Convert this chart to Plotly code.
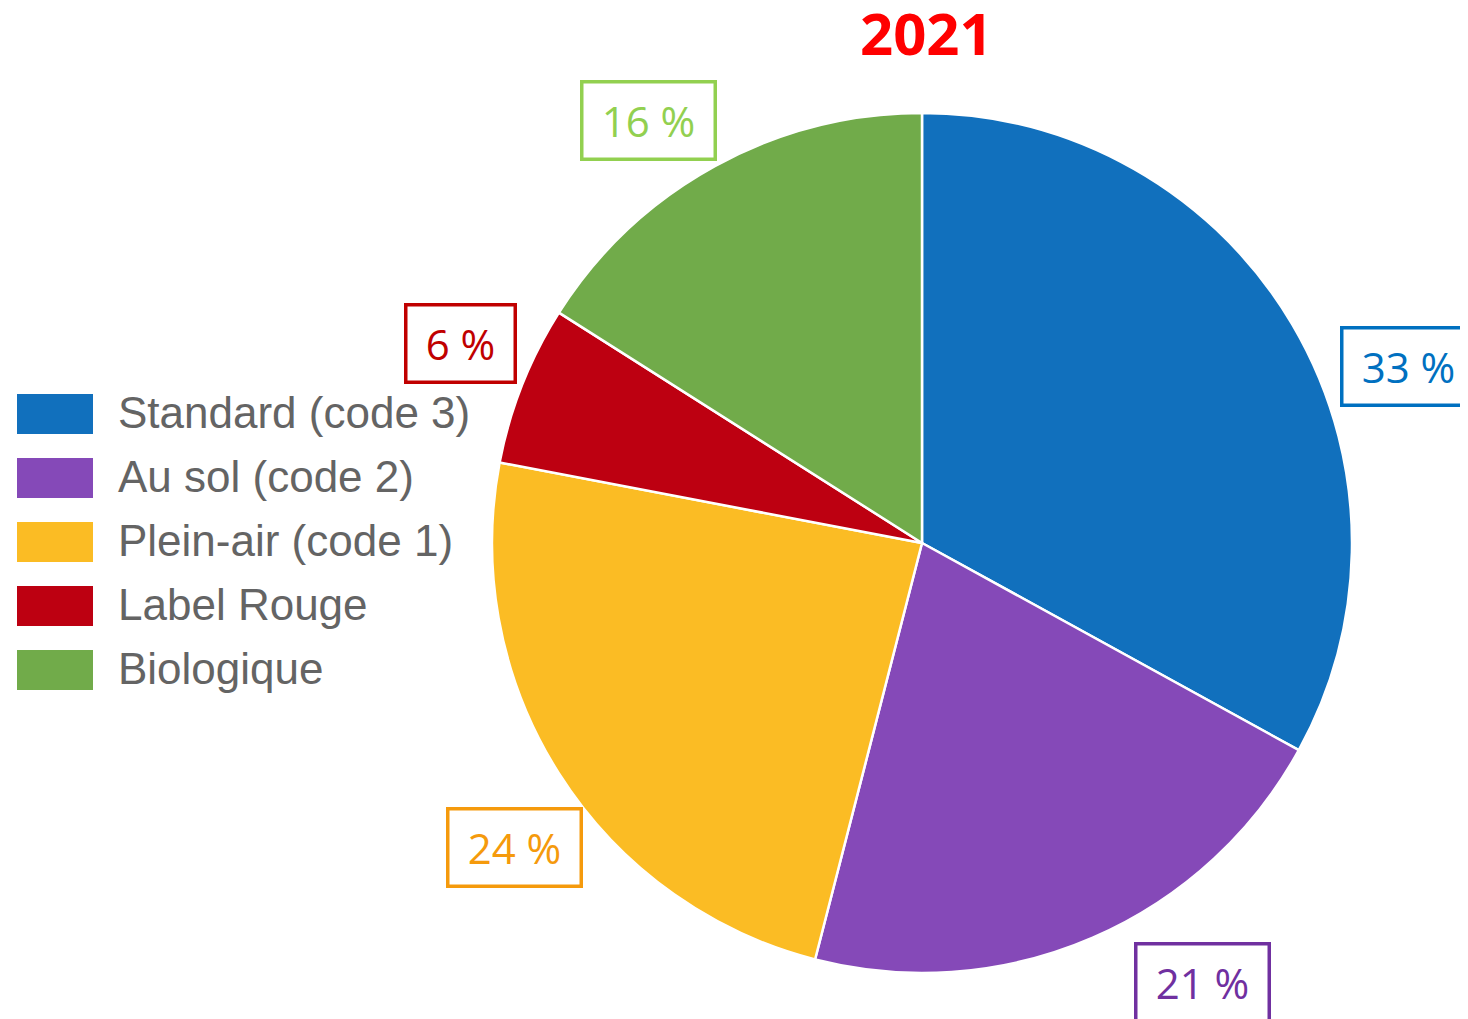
import plotly.graph_objects as go

# Data
categories = ["Standard (code 3)", "Au sol (code 2)", "Plein-air (code 1)", "Label Rouge", "Biologique"]
shares = [33, 21, 24, 6, 16]
slice_colors = ["#1170bd", "#8549b8", "#fbbc24", "#bd0011", "#71ab4a"]
label_colors = ["#0070c0", "#7030a0", "#f59a0c", "#c00000", "#92d050"]
title_text = "2021"

W, H = 1468, 1019
OFF = 8  # page body margin

def px(x, y):
    return (x - OFF) / W, 1 - (y - OFF) / H

cx, cy, r = 922, 543, 430
dx0, dy0 = px(cx - r, cy + r)
dx1, dy1 = px(cx + r, cy - r)

fig = go.Figure(go.Pie(
    labels=categories, values=shares, sort=False, direction="clockwise", rotation=0,
    marker=dict(colors=slice_colors, line=dict(color="white", width=2.5)),
    textinfo="none", hoverinfo="label+percent", showlegend=False,
    domain=dict(x=[dx0, dx1], y=[dy0, dy1]),
))

# percentage boxes (pixel centres, inner widths)
box_pos = [(1408, 366), (1202, 982), (514, 847), (460, 343), (648, 120)]
box_w = [128, 128, 128, 104, 128]
for cat, val, col, (bx, by), bw in zip(categories, shares, label_colors, box_pos, box_w):
    x, y = px(bx, by)
    fig.add_annotation(x=x, y=y, xref="paper", yref="paper", text=f"{val} %",
                       showarrow=False, font=dict(family="Open Sans", size=42, color=col),
                       bordercolor=col, borderwidth=3.5, width=bw, height=72,
                       bgcolor="white", xanchor="center", yanchor="middle")

# legend drawn manually
for i, (cat, col) in enumerate(zip(categories, slice_colors)):
    yc = 414 + i * 64
    x0, y0 = px(17, yc - 20)
    x1, y1 = px(93, yc + 20)
    fig.add_shape(type="rect", xref="paper", yref="paper", x0=x0, x1=x1, y0=y1, y1=y0,
                  fillcolor=col, line=dict(width=0))
    tx, ty = px(116, yc - 2)
    fig.add_annotation(x=tx, y=ty, xref="paper", yref="paper", text=cat, showarrow=False,
                       xanchor="left", yanchor="middle",
                       font=dict(family="Liberation Sans, Arial", size=44, color="#646464"))

tx, ty = px(926, 33)
fig.add_annotation(x=tx, y=ty, xref="paper", yref="paper", text=f"<b>{title_text}</b>",
                   showarrow=False, font=dict(family="Open Sans", size=58, color="#ff0000"),
                   xanchor="center", yanchor="middle")

fig.update_layout(width=W, height=H, margin=dict(l=0, r=0, t=0, b=0),
                  paper_bgcolor="white", plot_bgcolor="white")

fig.write_html("out.html")
